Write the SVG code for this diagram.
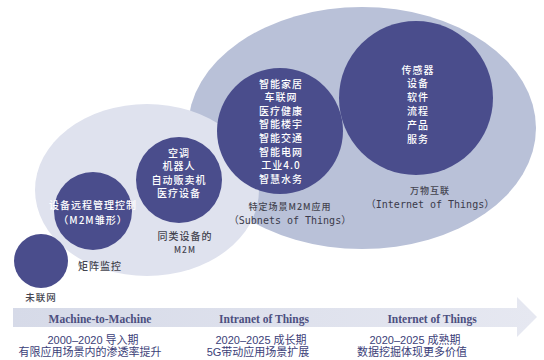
<svg xmlns="http://www.w3.org/2000/svg" width="544" height="360" viewBox="0 0 544 360">
<defs>
<linearGradient id="band" x1="0" y1="0" x2="1" y2="0">
<stop offset="0" stop-color="#d6dae8"/>
<stop offset="1" stop-color="#e6e8f1"/>
</linearGradient>
<style>
.dark{fill:#4a4d8c}
.wt{fill:#ffffff;font-family:"Noto Sans CJK SC",sans-serif;font-weight:500;font-size:10px;letter-spacing:1px;text-anchor:middle;dominant-baseline:central}
.lb{fill:#44444f;font-family:"Noto Sans CJK SC",sans-serif;font-weight:500;letter-spacing:1px;text-anchor:middle;dominant-baseline:central}
.mono{fill:#3a3a4a;font-family:"DejaVu Sans Mono","Noto Sans CJK SC",monospace;text-anchor:middle;dominant-baseline:central}
.era{fill:#4c4f80;font-family:"Liberation Serif",serif;font-weight:bold;font-size:11.5px;text-anchor:middle;dominant-baseline:central}
.sub{fill:#3b3e78;font-family:"Liberation Sans","Noto Sans CJK SC",sans-serif;font-size:11px;text-anchor:middle;dominant-baseline:central}
</style>
</defs>
<rect width="544" height="360" fill="#ffffff"/>

<g id="iot-area">
<ellipse cx="362" cy="128" rx="174" ry="121" fill="#b9c1d8"/>
</g>
<g id="m2m-area">
<ellipse cx="147" cy="190" rx="112" ry="86" fill="#dfe2ee"/>
</g>

<g id="node-unconnected">
<circle cx="41" cy="261" r="27" class="dark"/>
<text x="41" y="297" class="lb" font-size="9.5">未联网</text>
</g>

<g id="node-matrix">
<circle cx="93" cy="211" r="39" class="dark"/>
<text x="93" y="204.5" class="wt" font-size="8.5" letter-spacing="0.5">设备远程管理控制</text>
<text x="93" y="219" class="wt" font-size="7.5" letter-spacing="0">（M2M雏形）</text>
<text x="100" y="265" class="lb" font-size="10">矩阵监控</text>
</g>

<g id="node-m2m">
<circle cx="179" cy="180" r="43" class="dark"/>
<text x="179" y="152" class="wt">空调</text>
<text x="179" y="165.5" class="wt">机器人</text>
<text x="179" y="179" class="wt">自动贩卖机</text>
<text x="179" y="192.5" class="wt">医疗设备</text>
<text x="185" y="235" class="lb" font-size="10">同类设备的</text>
<text x="185" y="249" class="lb" font-size="8.5" letter-spacing="0">M2M</text>
</g>

<g id="node-subnets">
<circle cx="280" cy="131" r="63" class="dark"/>
<text x="281" y="83" class="wt">智能家居</text>
<text x="281" y="96.6" class="wt">车联网</text>
<text x="281" y="110.2" class="wt">医疗健康</text>
<text x="281" y="123.8" class="wt">智能楼宇</text>
<text x="281" y="137.4" class="wt">智能交通</text>
<text x="281" y="151" class="wt">智能电网</text>
<text x="281" y="164.6" class="wt">工业4.0</text>
<text x="281" y="178.2" class="wt">智慧水务</text>
<text x="290" y="206" class="lb" font-size="9" font-weight="normal" letter-spacing="0.5">特定场景M2M应用</text>
<text x="290" y="220" class="mono" font-size="10">（Subnets of Things）</text>
</g>

<g id="node-iot">
<circle cx="416" cy="98" r="77" class="dark"/>
<text x="418" y="69" class="wt">传感器</text>
<text x="418" y="82.8" class="wt">设备</text>
<text x="418" y="96.6" class="wt">软件</text>
<text x="418" y="110.4" class="wt">流程</text>
<text x="418" y="124.2" class="wt">产品</text>
<text x="418" y="138" class="wt">服务</text>
<text x="430" y="190" class="lb" font-size="9" font-weight="normal">万物互联</text>
<text x="430" y="204" class="mono" font-size="10">（Internet of Things）</text>
</g>

<g id="connectors">
<path d="M13 308 H517 V297 L537 317 L517 337 V327 H13 Z" fill="url(#band)"/>
</g>

<g id="stage-1">
<text x="100" y="319" class="era">Machine-to-Machine</text>
<text x="93" y="340" class="sub">2000–2020 导入期</text>
<text x="90" y="352" class="sub" font-size="10.5">有限应用场景内的渗透率提升</text>
</g>
<g id="stage-2">
<text x="264" y="319" class="era">Intranet of Things</text>
<text x="261" y="340" class="sub">2020–2025 成长期</text>
<text x="258" y="352" class="sub" font-size="10.5">5G带动应用场景扩展</text>
</g>
<g id="stage-3">
<text x="432" y="319" class="era">Internet of Things</text>
<text x="415" y="340" class="sub">2020–2025 成熟期</text>
<text x="412" y="352" class="sub" font-size="10.5">数据挖掘体现更多价值</text>
</g>
</svg>
